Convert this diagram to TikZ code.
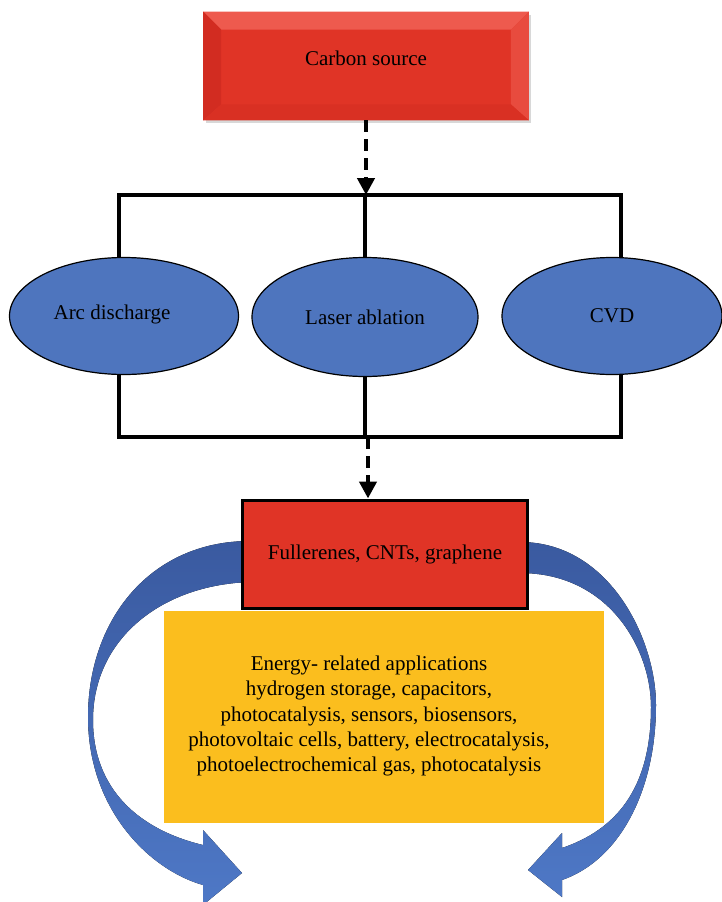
\documentclass[tikz,border=0pt]{standalone}
\usepackage{fontspec}
\setmainfont{Liberation Serif}
\usetikzlibrary{arrows.meta,calc,positioning,shapes.geometric,shadows}

\definecolor{boxred}{RGB}{224,52,38}
\definecolor{bevellight}{RGB}{238,90,78}
\definecolor{beveldark}{RGB}{210,44,33}
\definecolor{ellblue}{RGB}{78,117,190}
\definecolor{appyellow}{RGB}{251,190,30}
\definecolor{arrowtop}{RGB}{58,90,160}
\definecolor{arrowbot}{RGB}{78,120,198}

\tikzset{
  txt/.style={font=\fontsize{21}{25.3}\selectfont, text=black},
  redbox/.style={fill=boxred, minimum width=325pt, minimum height=108pt, inner sep=0pt,
    drop shadow={shadow xshift=2pt, shadow yshift=-3pt, fill=black!30}},
  method/.style={ellipse, draw=black, line width=1.2pt, fill=ellblue, inner sep=0pt, txt},
  bus/.style={line width=4pt},
  dasharrow/.style={line width=4.5pt, dash pattern=on 12pt off 7pt,
    -{Triangle[length=17pt,width=17pt]}},
  bluearrow/.style={top color=arrowtop, bottom color=arrowbot, draw=none}
}

\begin{document}
\begin{tikzpicture}[x=1pt,y=-1pt,>=Latex,thick]
  \useasboundingbox (0,0) rectangle (721,902);

  % Blue = curved arrows round the application box
  \fill[bluearrow] (250,541) .. controls (150,541) and (88,620) .. (88,717)
    .. controls (88,810) and (150,870) .. (203,885) -- (203,905) -- (242,873) -- (203,830) -- (203,845)
    .. controls (140,830) and (93,790) .. (93,720) .. controls (93,640) and (160,585) .. (250,582) -- cycle;
  \fill[bluearrow] (520,542) .. controls (610,542) and (656,640) .. (656,705)
    .. controls (656,790) and (620,860) .. (562,880) -- (562,897) -- (528,870) -- (562,833) -- (562,848)
    .. controls (615,830) and (651,790) .. (651,707) .. controls (651,650) and (610,573) .. (520,573) -- cycle;

  % Yellow = applications
  \node[fill=appyellow, minimum width=440pt, minimum height=212pt, inner sep=0pt] (apps) at (384,717) {};
  \node[txt, align=center] (appstext) at (369,716) {Energy- related applications\\
    hydrogen storage, capacitors,\\
    photocatalysis, sensors, biosensors,\\
    photovoltaic cells, battery, electrocatalysis,\\
    photoelectrochemical gas, photocatalysis};

  % Red = source and products
  \node[redbox] (carbon) at (366,66) {};
  \fill[bevellight] (carbon.north west) -- (carbon.north east) -- ++(-18,18)
    -- ($(carbon.north west)+(18,18)$) -- cycle;
  \fill[beveldark] (carbon.north west) -- ++(18,18) -- ($(carbon.south west)+(18,-16)$)
    -- (carbon.south west) -- cycle;
  \fill[bevellight!60!boxred] (carbon.north east) -- ++(-18,18) -- ($(carbon.south east)+(-18,-16)$)
    -- (carbon.south east) -- cycle;
  \fill[beveldark!50!boxred] (carbon.south west) -- ++(18,-16) -- ($(carbon.south east)+(-18,-16)$)
    -- (carbon.south east) -- cycle;
  \node[txt] (carbontext) at ([yshift=8pt]carbon.center) {Carbon source};

  \node[fill=boxred, draw=black, line width=3pt, minimum width=285pt, minimum height=108pt,
    inner sep=0pt, txt] (fuller) at (385,554) {Fullerenes, CNTs, graphene};

  % Blue = synthesis methods
  \node[method, minimum width=229pt, minimum height=117pt] (arc) at (124,316) {};
  \node[txt] (arctext) at ([xshift=-12pt,yshift=2pt]arc.center) {Arc discharge};
  \node[method, minimum width=226pt, minimum height=119pt] (laser) at (365,317) {Laser ablation};
  \node[method, minimum width=220pt, minimum height=117pt] (cvd) at (612,316) {CVD};

  % Black = bus lines
  \coordinate (topbus) at (366,195);
  \coordinate (botbus) at (368,437);
  \coordinate (tl) at (119,195);
  \coordinate (tr) at (621,195);
  \coordinate (bl) at (119,437);
  \coordinate (br) at (621,437);

  \draw[bus] (arc.north -| tl) -- (tl) -- (tr) -- (cvd.north -| tr);
  \draw[bus] (laser.north) -- (laser.north |- topbus);
  \draw[bus] (arc.south -| bl) -- (bl) -- (br) -- (cvd.south -| br);
  \draw[bus] (laser.south) -- (laser.south |- botbus);

  % Dashed = flow
  \draw[dasharrow] (carbon.south -| topbus) -- (topbus);
  \draw[dasharrow] (botbus) -- (botbus |- fuller.north);

\end{tikzpicture}
\end{document}
